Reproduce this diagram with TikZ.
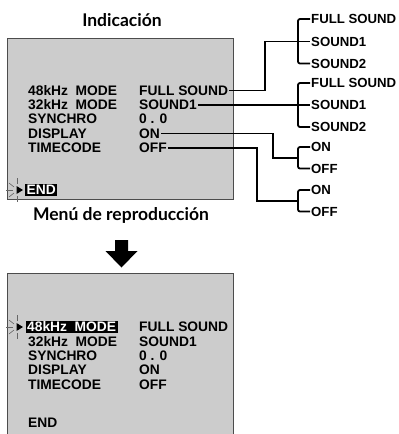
\documentclass[tikz,border=0pt]{standalone}
\usepackage{fontspec}
\setmainfont{Liberation Sans}
\newfontfamily\titlefont{Lato}
\usetikzlibrary{calc}

\begin{document}
\begin{tikzpicture}[
    x=1pt, y=-1pt,
    every node/.style={font=\fontsize{13.8}{16}\selectfont\bfseries, inner sep=1pt, text height=9.6pt, text depth=0pt, anchor=west},
    choice/.style={font=\fontsize{13.2}{15}\selectfont\bfseries},
    title/.style={font=\titlefont\fontsize{17.5}{20}\selectfont\bfseries, anchor=center, text height=, text depth=},
    screen/.style={fill=gray!40, draw=black!70, line width=0.8pt},
    hilite/.style={fill=black, text=white, inner sep=1.5pt},
    conn/.style={line width=1.8pt},
    bracket/.style={line width=1.8pt, rounded corners=2pt},
    spark/.style={line width=0.6pt, black!60}
]
\useasboundingbox (0,0) rectangle (399,434);

% titles
\node[title] (tind) at (122,20) {Indicación};
\node[title] (tmenu) at (121,215) {Menú de reproducción};

% screens
\draw[screen] (7,38) rectangle (233,199);
\fill[gray!40] (7,273) rectangle (233,434);
\draw[draw=black!70, line width=0.8pt] (7,434) -- (7,273) -- (233,273) -- (233,434);

% big arrow down
\fill (115,240) -- (128,240) -- (128,251) -- (137.5,251) -- (121.5,267.5) -- (105.5,251) -- (115,251) -- cycle;

% upper screen
\node (k48) at (27,90.5) {48kHz\ \ MODE};
\node (k32) at (27,104.8) {32kHz\ \ MODE};
\node (ksy) at (27,119.1) {SYNCHRO};
\node (kdi) at (27,133.4) {DISPLAY};
\node (kti) at (27,147.7) {TIMECODE};
\node (v48) at (138,90.5) {FULL SOUND};
\node (v32) at (138,104.8) {SOUND1};
\node (vsy) at (138,119.1) {0 . 0};
\node (vdi) at (138,133.4) {ON};
\node (vti) at (138,147.7) {OFF};
\node[hilite] (kend) at (25,190) {END};

% lower screen
\node[hilite] (m48) at (25.5,327) {48kHz\ \ MODE};
\node (m32) at (27,341.3) {32kHz\ \ MODE};
\node (msy) at (27,355.6) {SYNCHRO};
\node (mdi) at (27,369.9) {DISPLAY};
\node (mti) at (27,384.2) {TIMECODE};
\node (n48) at (138,327) {FULL SOUND};
\node (n32) at (138,341.3) {SOUND1};
\node (nsy) at (138,355.6) {0 . 0};
\node (ndi) at (138,369.9) {ON};
\node (nti) at (138,384.2) {OFF};
\node (mend) at (27,423) {END};

% blinking cursors
\foreach \cy in {190,327} {
    \fill (16.5,\cy-4) -- (23,\cy) -- (16.5,\cy+4) -- cycle;
    \draw[spark] (6,\cy) -- (13,\cy);
    \draw[spark] (9,\cy-7) -- (14,\cy-3);
    \draw[spark] (9,\cy+7) -- (14,\cy+3);
    \draw[spark] (17.5,\cy-12) -- (17.5,\cy-6);
    \draw[spark] (17.5,\cy+6) -- (17.5,\cy+12);
}

% choices
\node[choice] (a1) at (310,19) {FULL SOUND};
\node[choice] (a2) at (310,41.5) {SOUND1};
\node[choice] (a3) at (310,63.5) {SOUND2};
\node[choice] (b1) at (310,83) {FULL SOUND};
\node[choice] (b2) at (310,104.8) {SOUND1};
\node[choice] (b3) at (310,127) {SOUND2};
\node[choice] (c1) at (310,147) {ON};
\node[choice] (c2) at (310,168.5) {OFF};
\node[choice] (d1) at (310,190) {ON};
\node[choice] (d2) at (310,211.5) {OFF};

\draw[bracket] (a1.west) -- ++(-12,0) |- (a3.west);
\draw[bracket] (b1.west) -- ++(-12,0) |- (b3.west);
\draw[bracket] (c1.west) -- ++(-12,0) |- (c2.west);
\draw[bracket] (d1.west) -- ++(-12,0) |- (d2.west);
\coordinate (j3) at ($(c1.west)!0.5!(c2.west)+(-12,0)$);
\coordinate (j4) at ($(d1.west)!0.5!(d2.west)+(-12,0)$);
\coordinate (t1) at (265,0);
\coordinate (t3) at (273,0);
\coordinate (t4) at (257,0);

\draw[conn] (v48.east) -- (v48.east -| t1) |- (a2.west);
\draw[conn] (v32.east) -- (b2.west);
\draw[conn] (vdi.east) -- (vdi.east -| t3) |- (j3);
\draw[conn] (vti.east) -- (vti.east -| t4) |- (j4);

\end{tikzpicture}
\end{document}
